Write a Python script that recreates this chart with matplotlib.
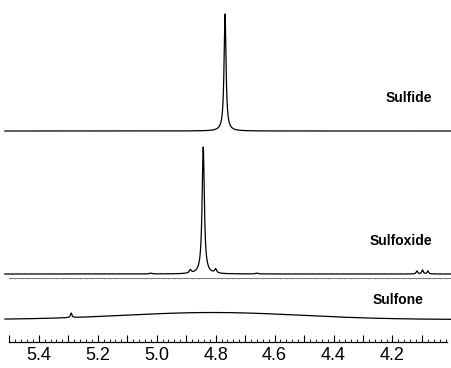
import numpy as np
import matplotlib.pyplot as plt
from matplotlib.ticker import MultipleLocator

plt.rcParams['font.family'] = ['Liberation Sans', 'DejaVu Sans']

# peak lists: position (ppm), height (px), half width (ppm)
sulfide_pos = [4.768]
sulfide_hgt = [117]
sulfide_hw = [0.004]

sulfoxide_pos = [4.842, 4.886, 4.800, 5.02, 4.66, 4.117, 4.098, 4.080]
sulfoxide_hgt = [127, 3.3, 4.0, 0.8, 0.8, 3.0, 4.0, 3.0]
sulfoxide_hw = [0.0045, 0.004, 0.004, 0.005, 0.005, 0.003, 0.003, 0.003]

sulfone_pos = [5.29]
sulfone_hgt = [4.5]
sulfone_hw = [0.003]
# broad hump under the sulfone trace (gaussian)
hump_pos = 4.81
hump_hgt = 7.0
hump_sigma = 0.30

labels = ['Sulfide', 'Sulfoxide', 'Sulfone']


def lorentz(x, pos, hgt, hw):
    y = np.zeros_like(x)
    for p, h, w in zip(pos, hgt, hw):
        y += h * w**2 / ((x - p)**2 + w**2)
    return y


ppm = np.linspace(5.515, 4.0, 6000)
sulfide = lorentz(ppm, sulfide_pos, sulfide_hgt, sulfide_hw)
sulfoxide = lorentz(ppm, sulfoxide_pos, sulfoxide_hgt, sulfoxide_hw)
sulfone = lorentz(ppm, sulfone_pos, sulfone_hgt, sulfone_hw) + \
    hump_hgt * np.exp(-(ppm - hump_pos)**2 / (2 * hump_sigma**2))

# vertical offsets of each trace (pixel-like units above the axis)
base = {'Sulfide': 210.5, 'Sulfoxide': 67.5, 'Sulfone': 22.0}

fig = plt.figure(figsize=(4.51, 3.68), dpi=100)
ax = fig.add_axes([0.0206, 0.072, 0.9705, 0.928])

ax.plot(ppm, sulfide + base['Sulfide'], color='black', lw=0.9, clip_on=False)
ax.plot(ppm, sulfoxide + base['Sulfoxide'], color='black', lw=0.9, clip_on=False)
ax.plot(ppm, sulfone + base['Sulfone'], color='black', lw=0.9, clip_on=False)

# faint second axis line under the sulfoxide trace
y2 = base['Sulfoxide'] - 3.5
ax.plot([5.5, 4.0], [y2, y2], color='#777777', lw=0.7, clip_on=False)
minor = np.arange(5.5, 4.0, -0.02)
minor = minor[np.abs(minor * 10 - np.round(minor * 10)) > 0.05]
ax.vlines(minor, y2 - 1.5, y2, color='#999999', lw=0.6)

# trace labels, placed in figure pixels
for name, (px, py) in zip(labels, [(409, 98), (401, 241), (398, 300)]):
    fig.text(px / 451, 1 - py / 368, name, fontsize=10, fontweight='bold',
             ha='center', va='center')

ax.set_xlim(5.5, 4.015)
ax.set_ylim(0, 341.5)
ax.xaxis.set_minor_locator(MultipleLocator(0.02))
ticks = np.arange(5.5, 4.0, -0.1)
ax.set_xticks(ticks)
ax.set_xticklabels(['' if i % 2 == 0 else f'{v:.1f}' for i, v in enumerate(ticks)])
ax.tick_params(axis='x', which='major', direction='in', length=5, width=0.8, labelsize=13, pad=4)
ax.tick_params(axis='x', which='minor', direction='in', length=2, width=0.6)
ax.set_yticks([])
for s in ['top', 'left', 'right']:
    ax.spines[s].set_visible(False)
ax.spines['bottom'].set_linewidth(0.9)
ax.patch.set_alpha(0)

fig.savefig('out.png', dpi=100)
